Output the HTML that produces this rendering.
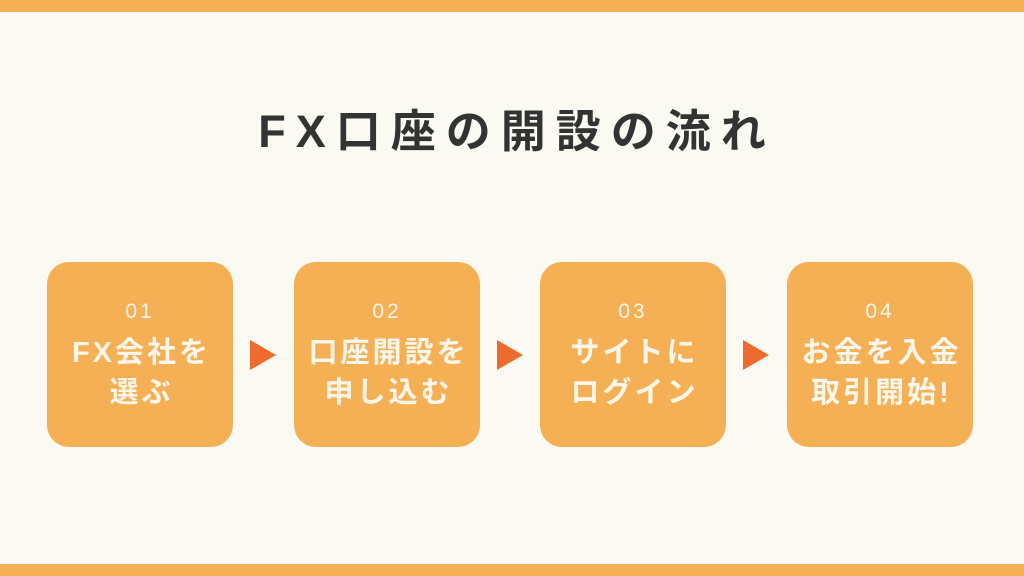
<!DOCTYPE html>
<html><head><meta charset="utf-8"><style>
body{margin:0;width:1024px;height:576px;background:#FBFAF2;position:relative;overflow:hidden;font-family:"Liberation Sans","Noto Sans CJK JP",sans-serif}
.bar{position:absolute;left:0;width:1024px;height:12px;background:#F5AF55}
h1{position:absolute;top:103px;left:0;width:1024px;text-align:center;margin:0;font-size:45px;font-weight:bold;color:#333;letter-spacing:10px;line-height:58px;padding-left:10px;box-sizing:border-box}
.box{position:absolute;top:262px;width:186px;height:185px;border-radius:22px;background:#F5AF55;color:#FBF6EA;text-align:center}
.num{position:absolute;top:36px;left:0;width:100%;font-size:21px;letter-spacing:3px;line-height:28px}
.t{position:absolute;top:71px;left:0;width:100%;font-size:29px;font-weight:bold;letter-spacing:3px;line-height:40px;padding-left:3px;box-sizing:border-box}
.arr{position:absolute;top:340px;width:0;height:0;border-top:15px solid transparent;border-bottom:15px solid transparent;border-left:26px solid #EE6B2E}
</style></head><body>
<div class="bar" style="top:0"></div><div class="bar" style="top:564px"></div>
<h1>FX口座の開設の流れ</h1>
<div class="box" style="left:47px"><div class="num">01</div><div class="t">FX会社を<br>選ぶ</div></div>
<div class="box" style="left:294px"><div class="num">02</div><div class="t">口座開設を<br>申し込む</div></div>
<div class="box" style="left:540px"><div class="num">03</div><div class="t">サイトに<br>ログイン</div></div>
<div class="box" style="left:787px"><div class="num">04</div><div class="t">お金を入金<br>取引開始!</div></div>
<div class="arr" style="left:250px"></div>
<div class="arr" style="left:497px"></div>
<div class="arr" style="left:743px"></div>
</body></html>
